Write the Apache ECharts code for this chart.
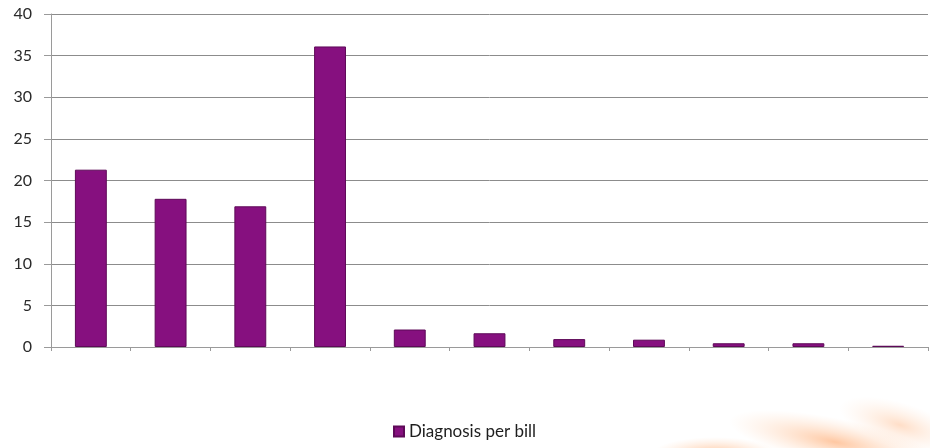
<!DOCTYPE html>
<html>
<head>
<meta charset="utf-8">
<script src="https://cdn.jsdelivr.net/npm/echarts@6/dist/echarts.min.js"></script>
<style>
  html, body { margin: 0; padding: 0; background: #ffffff; }
  #chart { width: 930px; height: 448px; }
</style>
</head>
<body>
<div id="chart"></div>
<script>
// Eleven groups; their axis labels are left blank
const categories = ['', '', '', '', '', '', '', '', '', '', ''];
const diagnosisPerBill = [21.3, 17.8, 16.9, 36.1, 2.1, 1.65, 0.95, 0.88, 0.45, 0.45, 0.15];
const yTicks = { min: 0, max: 40, interval: 5 };
const seriesName = 'Diagnosis per bill';

const font = 'Lato, "Open Sans", sans-serif';

// a circle with a fading radial fill, squashed into a soft ellipse
function glow(cx, cy, r, sx, sy, rot, alpha) {
  return {
    type: 'circle',
    x: cx, y: cy, rotation: rot, scaleX: sx, scaleY: sy,
    shape: { cx: 0, cy: 0, r: r },
    style: {
      fill: {
        type: 'radial', x: 0.5, y: 0.5, r: 0.5,
        colorStops: [
          { offset: 0, color: 'rgba(255,145,70,' + alpha + ')' },
          { offset: 0.45, color: 'rgba(255,170,110,' + (alpha * 0.55) + ')' },
          { offset: 1, color: 'rgba(255,200,160,0)' }
        ]
      }
    },
    silent: true,
    z: -1
  };
}

const chart = echarts.init(document.getElementById('chart'));
chart.setOption({
  animation: false,
  backgroundColor: '#ffffff',
  textStyle: { fontFamily: font },
  grid: { left: 51, right: 2, top: 14, bottom: 101, containLabel: false },
  legend: {
    data: [seriesName],
    bottom: 3,
    left: 388,
    itemWidth: 10,
    itemHeight: 10,
    itemGap: 5,
    icon: 'rect',
    textStyle: { fontSize: 17, color: '#1e1e1e', fontFamily: font }
  },
  xAxis: {
    type: 'category',
    data: categories,
    axisLine: { lineStyle: { color: '#9a9a9a', width: 1 } },
    axisTick: { show: true, length: 4, lineStyle: { color: '#9a9a9a' } },
    axisLabel: { show: false },
    splitLine: { show: false }
  },
  yAxis: {
    type: 'value',
    min: yTicks.min,
    max: yTicks.max,
    interval: yTicks.interval,
    axisLine: { show: true, lineStyle: { color: '#9a9a9a', width: 1 } },
    axisTick: { show: true, length: 7, lineStyle: { color: '#9a9a9a' } },
    axisLabel: { fontSize: 16, color: '#2a2a2a', margin: 19 },
    splitLine: { lineStyle: { color: '#8c8c8c', width: 1 } }
  },
  series: [{
    name: seriesName,
    type: 'bar',
    data: diagnosisPerBill,
    barWidth: '40%',
    itemStyle: { color: '#86107f', borderColor: '#5e0a58', borderWidth: 1 }
  }],
  graphic: [
    // soft orange haze in the lower right corner
    glow(715, 455, 40, 1.6, 0.45, 0, 0.6),
    glow(835, 442, 60, 1.8, 0.4, -0.2, 0.5),
    glow(900, 425, 45, 1.4, 0.5, -0.3, 0.3)
  ]
});
</script>
</body>
</html>
